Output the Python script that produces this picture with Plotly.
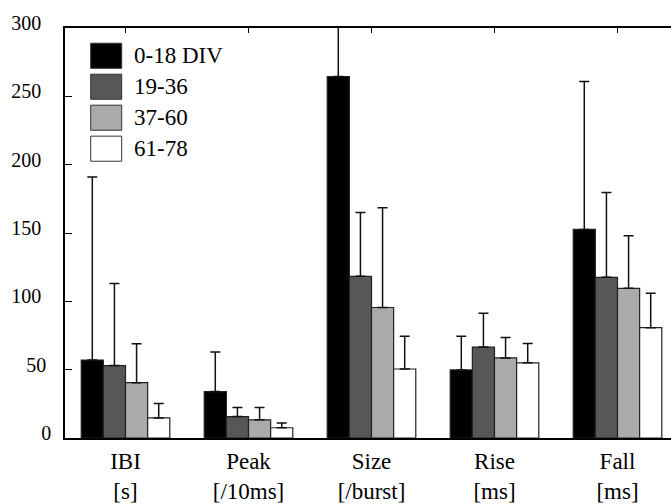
import plotly.graph_objects as go

categories = ["IBI<br>[s]", "Peak<br>[/10ms]", "Size<br>[/burst]", "Rise<br>[ms]", "Fall<br>[ms]"]
series_names = ["0-18 DIV", "19-36", "37-60", "61-78"]

mean_0_18 = [57, 34, 264.5, 49.8, 152.6]
mean_19_36 = [53, 15.7, 118.3, 66.5, 117.6]
mean_37_60 = [40.5, 13.3, 95.5, 58.6, 109.5]
mean_61_78 = [14.7, 7.5, 50.5, 55, 80.7]

err_0_18 = [134, 29, 80, 24.7, 108.2]
err_19_36 = [60, 6.7, 46.7, 24.7, 62.1]
err_37_60 = [28.5, 9.1, 73, 14.9, 38.5]
err_61_78 = [10.6, 3.4, 24, 14.2, 25.3]

y_ticks = [0, 50, 100, 150, 200, 250, 300]

means = [mean_0_18, mean_19_36, mean_37_60, mean_61_78]
errs = [err_0_18, err_19_36, err_37_60, err_61_78]
colors = ["#000000", "#575757", "#aaaaaa", "#ffffff"]

FONT = "Times New Roman, Liberation Serif, DejaVu Serif, serif"
xpos = list(range(len(categories)))

# y tick labels: the original uses a slightly uneven alignment (shorter labels sit further right)
y_ticktext = [str(v) + "\u00a0" * (len(str(v)) - 1) for v in y_ticks]

fig = go.Figure()
for name, m, e, c in zip(series_names, means, errs, colors):
    fig.add_trace(go.Bar(
        x=xpos, y=m, name=name,
        marker=dict(color=c, line=dict(color="#222222", width=1.2)),
        error_y=dict(type="data", symmetric=False, array=e, arrayminus=[0] * len(e),
                     color="#111111", thickness=1.5, width=5),
        showlegend=False,
    ))

# legend drawn as shapes + text
box_x0, box_x1 = 90.7, 121.7
row_y = [43, 74.5, 106, 137.5]
box_h = 25.5
W, H = 671, 504
for name, c, y0 in zip(series_names, colors, row_y):
    fig.add_shape(type="rect", xref="paper", yref="paper",
                  x0=(box_x0 - 65) / 606, x1=(box_x1 - 65) / 606,
                  y0=1 - (y0 + box_h - 27.5) / 417, y1=1 - (y0 - 27.5) / 417,
                  fillcolor=c, line=dict(color="#333333", width=1), layer="above")
    fig.add_annotation(xref="paper", yref="paper",
                       x=(132 - 65) / 606, y=1 - (y0 + box_h / 2 - 27.5) / 417,
                       text=name, showarrow=False, xanchor="left", yanchor="middle",
                       font=dict(family=FONT, size=23, color="#000000"))

fig.update_layout(
    width=W, height=H,
    margin=dict(l=65, r=0, t=27.5, b=59.5, pad=0),
    paper_bgcolor="white", plot_bgcolor="white",
    barmode="group", bargap=0.28, bargroupgap=0,
    font=dict(family=FONT, size=20, color="#000000"),
)
fig.update_xaxes(
    range=[-0.492, 4.435],
    tickmode="array", tickvals=xpos, ticktext=categories,
    ticks="inside", ticklen=5, tickcolor="#000000", tickwidth=1,
    showline=True, linecolor="#000000", linewidth=1.5, mirror="ticks",
    showgrid=False, zeroline=False, layer="below traces",
    tickfont=dict(family=FONT, size=23),
    ticklabelstandoff=2,
)
fig.update_yaxes(
    range=[0, 300],
    tickmode="array", tickvals=y_ticks, ticktext=y_ticktext,
    ticks="inside", ticklen=7, tickcolor="#000000", tickwidth=1,
    showline=True, linecolor="#000000", linewidth=1.5, mirror=False,
    showgrid=False, zeroline=False,
    tickfont=dict(family=FONT, size=20),
    ticklabelstandoff=8, ticklabelshift=-5,
)
fig.write_html("out.html", config={"displayModeBar": False},
               post_script="document.body.style.margin='0';document.body.style.overflow='hidden';")
